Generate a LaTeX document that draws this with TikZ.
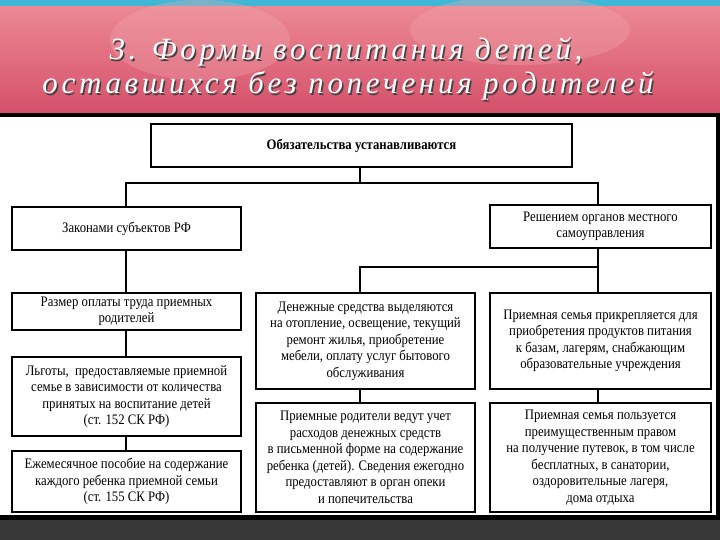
\documentclass[tikz,border=0pt]{standalone}
\usepackage{fontspec}
\setmainfont{Liberation Serif}
\newfontfamily\cond[FakeStretch=0.88]{Liberation Serif}
\newfontfamily\ttl[LetterSpace=12]{Liberation Serif}
\definecolor{pinkA}{HTML}{E86A78}
\definecolor{pinkB}{HTML}{D4506A}
\definecolor{cyanA}{HTML}{3FB8D8}
\tikzset{bx/.style={draw,line width=1.3pt,inner sep=0pt,align=center,font=\cond\fontsize{14.5}{16.5}\selectfont},
 ln/.style={line width=1.3pt},
 tt/.style={font=\ttl\itshape\fontsize{31}{34}\selectfont}}
\begin{document}
\begin{tikzpicture}[x=1pt,y=-1pt]
\useasboundingbox (0,0) rectangle (720,540);
\fill[white] (0,0) rectangle (720,540);
\fill[cyanA] (0,0) rectangle (720,7);
\shade[top color=pinkA!80!white, bottom color=pinkB] (0,7) rectangle (720,114);
\fill[pinkA!60!white,opacity=0.35] (200,40) ellipse (90 and 40);
\fill[pinkA!60!white,opacity=0.35] (520,30) ellipse (110 and 35);
\fill[black] (0,113) rectangle (720,117);
\fill[black] (716,113) rectangle (720,520);
\fill[black] (0,515) rectangle (720,520);
\fill[black!78] (0,520) rectangle (720,540);
\node[tt,text=black!75] at (347.5,53.5) {3. Формы воспитания детей,};
\node[tt,text=black!75] at (349.5,87.5) {оставшихся без попечения родителей};
\node[tt,text=white] (t1) at (346,52) {3. Формы воспитания детей,};
\node[tt,text=white] (t2) at (348,86) {оставшихся без попечения родителей};

\node[bx,minimum width=421,minimum height=43,font=\cond\bfseries\fontsize{14.5}{16.5}\selectfont] (top) at (361.5,145.5) {Обязательства устанавливаются};
\node[bx,minimum width=229,minimum height=43] (L1) at (126.5,228.5) {Законами субъектов РФ};
\node[bx,minimum width=221,minimum height=43] (R1) at (600.5,226.5) {Решением органов местного\\самоуправления};
\node[bx,minimum width=229,minimum height=37] (L2) at (126.5,311.5) {Размер оплаты труда приемных\\родителей};
\node[bx,minimum width=229,minimum height=79] (L3) at (126.5,396.5) {Льготы, \ предоставляемые приемной\\семье в зависимости от количества\\принятых на воспитание детей\\(ст. 152 СК РФ)};
\node[bx,minimum width=229,minimum height=61] (L4) at (126.5,481.5) {Ежемесячное пособие на содержание\\каждого ребенка приемной семьи\\(ст. 155 СК РФ)};
\node[bx,minimum width=219,minimum height=96] (M2) at (365.5,341) {Денежные средства выделяются\\на отопление, освещение, текущий\\ремонт жилья, приобретение\\мебели, оплату услуг бытового\\обслуживания};
\node[bx,minimum width=219,minimum height=109] (M3) at (365.5,457.5) {Приемные родители ведут учет\\расходов денежных средств\\в письменной форме на содержание\\ребенка (детей). Сведения ежегодно\\предоставляют в орган опеки\\и попечительства};
\node[bx,minimum width=221,minimum height=96] (R2) at (600.5,341) {Приемная семья прикрепляется для\\приобретения продуктов питания\\к базам, лагерям, снабжающим\\образовательные учреждения};
\node[bx,minimum width=221,minimum height=109] (R3) at (600.5,457.5) {Приемная семья пользуется\\преимущественным правом\\на получение путевок, в том числе\\бесплатных, в санатории,\\оздоровительные лагеря,\\дома отдыха};

\coordinate (j1) at (360,183);
\draw[ln] (top.south -| j1) -- (j1);
\draw[ln] (L1.north -| 126,0) |- (598,183) -- (R1.north -| 598,0);
\draw[ln] (L1.south -| 126,0) -- (L2.north -| 126,0);
\draw[ln] (L2.south -| 126,0) -- (L3.north -| 126,0);
\draw[ln] (L3.south -| 126,0) -- (L4.north -| 126,0);
\draw[ln] (R1.south -| 598,0) -- (598,267) -| (M2.north -| 360,0);
\draw[ln] (598,267) -- (R2.north -| 598,0);
\draw[ln] (M2.south -| 360,0) -- (M3.north -| 360,0);
\draw[ln] (R2.south -| 598,0) -- (R3.north -| 598,0);
\end{tikzpicture}
\end{document}
